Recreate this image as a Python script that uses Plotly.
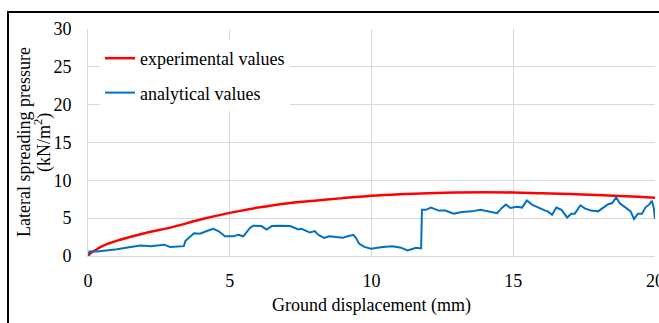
import plotly.graph_objects as go

# ---- data ----
exp_x = [0, 0.1, 0.25, 0.5, 1, 2, 3, 4, 5, 6, 7, 8, 9, 10, 11, 12, 13, 14, 15, 16, 17, 18, 19, 20]
exp_y = [0, 0.4, 0.75, 1.3, 2.0, 3.0, 3.85, 4.85, 5.7, 6.4, 6.95, 7.3, 7.65, 7.95, 8.15, 8.3, 8.4, 8.42, 8.4, 8.3, 8.2, 8.05, 7.9, 7.7]

ana_x = [0, 0.05, 0.1, 0.33, 0.56, 1.03, 1.5, 1.86, 2.21, 2.68, 2.9, 3.38, 3.44, 3.56, 3.74,
         3.95, 4.03, 4.19, 4.42, 4.6, 4.83, 5.13, 5.3, 5.48, 5.71, 5.83, 6.12, 6.3, 6.48, 6.77,
         7.13, 7.42, 7.53, 7.83, 8.0, 8.12, 8.33, 8.51, 8.75, 8.98, 9.16, 9.36, 9.45, 9.57, 9.75,
         9.98, 10.39, 10.74, 11.04, 11.27, 11.57, 11.75, 11.78, 11.92, 12.1, 12.22, 12.37, 12.6,
         12.9, 13.19, 13.54, 13.84, 14.13, 14.43, 14.6, 14.74, 14.9, 15.13, 15.31, 15.48, 15.66,
         15.9, 16.13, 16.22, 16.37, 16.52, 16.7, 16.9, 17.05, 17.17, 17.37, 17.52, 17.75, 17.99,
         18.17, 18.35, 18.49, 18.63, 18.75, 18.99, 19.14, 19.26, 19.4, 19.54, 19.66, 19.81, 19.89,
         19.96, 20.0]
ana_y = [0.1, 0.6, 0.6, 0.6, 0.7, 0.9, 1.2, 1.4, 1.3, 1.5, 1.2, 1.3, 2.0, 2.4, 3.0,
         2.95, 3.1, 3.3, 3.6, 3.3, 2.6, 2.6, 2.8, 2.6, 3.7, 4.0, 3.95, 3.5, 3.95, 4.0,
         3.95, 3.5, 3.6, 3.1, 3.3, 2.8, 2.4, 2.6, 2.5, 2.4, 2.6, 2.8, 2.4, 1.6, 1.2,
         0.97, 1.2, 1.3, 1.1, 0.75, 1.1, 1.0, 6.1, 6.1, 6.4, 6.25, 6.0, 6.0,
         5.6, 5.8, 5.9, 6.1, 5.9, 5.65, 6.35, 6.8, 6.35, 6.5, 6.4, 7.35, 6.8,
         6.35, 6.0, 5.9, 5.45, 6.4, 6.1, 5.1, 5.6, 5.6, 6.7, 6.3, 6.0, 5.9,
         6.35, 6.85, 7.0, 7.75, 7.0, 6.3, 5.9, 4.9, 5.6, 5.6, 6.4, 6.85, 7.3,
         6.3, 4.9]

x_ticks = [0, 5, 10, 15, 20]
y_ticks = [0, 5, 10, 15, 20, 25, 30]

FONT = "Liberation Serif, Times New Roman, Times, serif"

fig = go.Figure()
fig.add_trace(go.Scatter(x=exp_x, y=exp_y, mode="lines", name="experimental values",
                         line=dict(color="#ff0000", width=2.5, shape="spline"),
                         legendgroup="a"))
fig.add_trace(go.Scatter(x=ana_x, y=ana_y, mode="lines", name="analytical values",
                         line=dict(color="#0070c0", width=2),
                         legendgroup="b"))

PL, PR, PT, PB = 88, 655, 29, 256
W, H = 659, 323

def px2paper_x(px):
    return (px - PL) / (PR - PL)

def px2paper_y(py):
    return (PB - py) / (PB - PT)

fig.update_layout(
    width=W, height=H,
    margin=dict(l=PL, r=W - PR, t=PT, b=H - PB, pad=0, autoexpand=False),
    paper_bgcolor="white", plot_bgcolor="white",
    font=dict(family=FONT, size=18, color="black"),
    showlegend=True,
    legend=dict(x=px2paper_x(100), y=px2paper_y(40), xanchor="left", yanchor="top",
                bgcolor="white", borderwidth=0, traceorder="grouped", tracegroupgap=8,
                font=dict(family=FONT, size=18, color="black"), itemwidth=30),
    xaxis=dict(range=[0, 20], tickvals=x_ticks, showgrid=True, gridcolor="#d9d9d9", gridwidth=1,
               showline=True, linecolor="#d9d9d9", linewidth=1, zeroline=False,
               ticks="", ticklabelstandoff=8, ticklabeloverflow="allow", automargin=False,
               title=dict(text="Ground displacement (mm)", standoff=8,
                          font=dict(family=FONT, size=18, color="black"))),
    yaxis=dict(range=[0, 30], tickvals=y_ticks, showgrid=True, gridcolor="#d9d9d9", gridwidth=1,
               showline=True, linecolor="#d9d9d9", linewidth=1, zeroline=False,
               ticks="", ticklabelstandoff=12, ticklabeloverflow="allow", automargin=False),
)

# chart frame (cropped outer border)
fig.add_shape(type="rect", xref="paper", yref="paper",
              x0=px2paper_x(8), x1=px2paper_x(720), y0=px2paper_y(400), y1=px2paper_y(12),
              line=dict(color="black", width=2), fillcolor="rgba(0,0,0,0)", layer="above")

# y-axis title as two rotated lines
fig.add_annotation(text="Lateral spreading pressure", xref="paper", yref="paper",
                   x=px2paper_x(23.5), y=0.5, xanchor="center", yanchor="middle",
                   textangle=-90, showarrow=False, font=dict(family=FONT, size=18, color="black"))
fig.add_annotation(text="(kN/m<sup>2</sup>)", xref="paper", yref="paper",
                   x=px2paper_x(42.5), y=0.5, xanchor="center", yanchor="middle",
                   textangle=-90, showarrow=False, font=dict(family=FONT, size=18, color="black"))

fig.write_html("out.html")
